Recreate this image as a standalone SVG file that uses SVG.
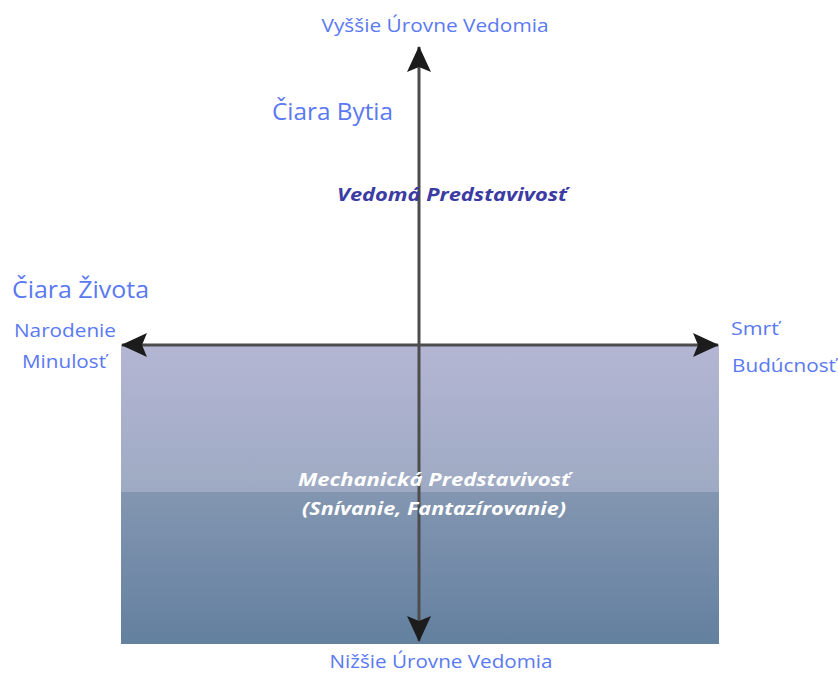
<svg xmlns="http://www.w3.org/2000/svg" width="838" height="673" viewBox="0 0 838 673">
  <defs>
    <linearGradient id="upperBand" x1="0" y1="0" x2="0" y2="1">
      <stop offset="0" stop-color="#b4b6d3"/>
      <stop offset="1" stop-color="#9eaac3"/>
    </linearGradient>
    <linearGradient id="lowerBand" x1="0" y1="0" x2="0" y2="1">
      <stop offset="0" stop-color="#8396b1"/>
      <stop offset="1" stop-color="#63809f"/>
    </linearGradient>
    <marker id="head" viewBox="0 0 28 24" refX="26" refY="12" markerWidth="28" markerHeight="24" markerUnits="userSpaceOnUse" orient="auto">
      <path d="M27,12 L1,0 L6,12 L1,24 Z" fill="#1c1c1c"/>
    </marker>
    <style>
      .blue { font-family: "Open Sans", "Noto Sans", sans-serif; fill: #5a79f2; }
      .label { font-size: 19px; }
      .title { font-size: 23px; }
      .fancy { font-family: "Open Sans", "Noto Sans", sans-serif; font-size: 17px; font-weight: bold; font-style: italic; }
      .axis { stroke: #4d4d4d; stroke-width: 3; fill: none; }
    </style>
  </defs>

  <!-- Shaded field below the line of life -->
  <g id="field">
    <rect x="121" y="345" width="598" height="147" fill="url(#upperBand)"/>
    <rect x="121" y="492" width="598" height="152" fill="url(#lowerBand)"/>
  </g>

  <!-- Axes -->
  <g id="connectors">
    <line class="axis" x1="419" y1="345" x2="419" y2="47" marker-end="url(#head)"/>
    <line class="axis" x1="419" y1="345" x2="419" y2="641" marker-end="url(#head)"/>
    <line class="axis" x1="419" y1="345" x2="122" y2="345" marker-end="url(#head)"/>
    <line class="axis" x1="419" y1="345" x2="718" y2="345" marker-end="url(#head)"/>
  </g>

  <g id="top-label">
    <text class="blue label" x="435" y="32" text-anchor="middle" textLength="227" lengthAdjust="spacingAndGlyphs">Vyššie  Úrovne Vedomia</text>
  </g>
  <g id="line-of-being">
    <text class="blue title" x="272" y="120" textLength="121" lengthAdjust="spacingAndGlyphs">Čiara Bytia</text>
  </g>
  <g id="line-of-life">
    <text class="blue title" x="12" y="298" textLength="137" lengthAdjust="spacingAndGlyphs">Čiara Života</text>
  </g>
  <g id="left-label">
    <text class="blue label" x="65" y="337" text-anchor="middle" textLength="102" lengthAdjust="spacingAndGlyphs">Narodenie</text>
    <text class="blue label" x="64" y="368" text-anchor="middle" textLength="84" lengthAdjust="spacingAndGlyphs">Minulosť</text>
  </g>
  <g id="right-label">
    <text class="blue label" x="731" y="335" textLength="48" lengthAdjust="spacingAndGlyphs">Smrť</text>
    <text class="blue label" x="732" y="372" textLength="104" lengthAdjust="spacingAndGlyphs">Budúcnosť</text>
  </g>
  <g id="conscious-imagination">
    <text class="fancy" x="452" y="201" text-anchor="middle" fill="#3b3ba3" textLength="230" lengthAdjust="spacingAndGlyphs">Vedomá Predstavivosť</text>
  </g>
  <g id="mechanical-imagination">
    <text class="fancy" x="434" y="486" text-anchor="middle" fill="#ffffff" textLength="272" lengthAdjust="spacingAndGlyphs">Mechanická Predstavivosť</text>
    <text class="fancy" x="434" y="515" text-anchor="middle" fill="#ffffff" textLength="264" lengthAdjust="spacingAndGlyphs">(Snívanie, Fantazírovanie)</text>
  </g>
  <g id="bottom-label">
    <text class="blue label" x="441" y="668" text-anchor="middle" textLength="223" lengthAdjust="spacingAndGlyphs">Nižšie Úrovne Vedomia</text>
  </g>
</svg>
